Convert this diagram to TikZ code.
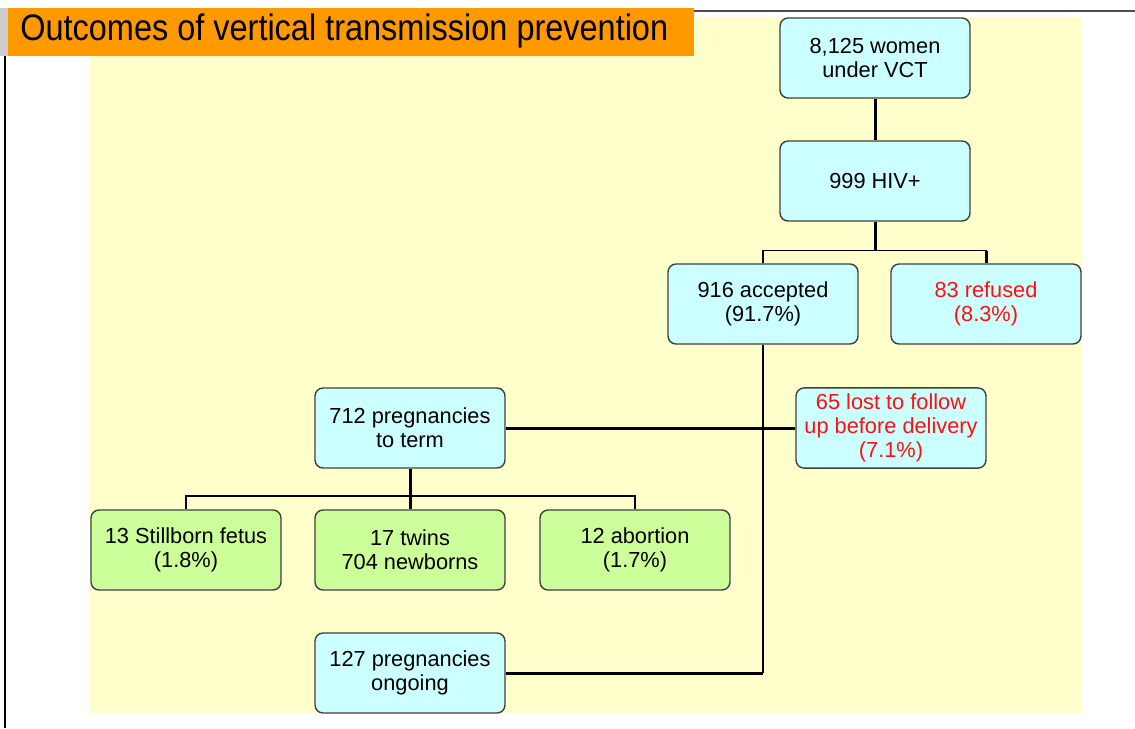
\documentclass[tikz,border=0pt]{standalone}
\usepackage{xcolor}
\usepackage{fontspec}
\usepackage{graphicx}
\setmainfont{Liberation Sans}
\usetikzlibrary{positioning}
\definecolor{boxcyan}{HTML}{CCFFFF}
\definecolor{boxgreen}{HTML}{CCFF99}
\definecolor{paneyellow}{HTML}{FFFFCC}
\definecolor{titleorange}{HTML}{FF9900}
\definecolor{lossred}{HTML}{FF1010}
\definecolor{edgegray}{HTML}{404040}

\tikzset{
  flowbox/.style={draw=edgegray, line width=0.8pt, rounded corners=0.16cm,
    minimum width=3.8cm, minimum height=1.6cm, align=center,
    font=\fontsize{12.4}{13.7}\selectfont},
  cyanbox/.style={flowbox, fill=boxcyan},
  greenbox/.style={flowbox, fill=boxgreen},
  thickline/.style={line width=1.7pt},
  thinline/.style={line width=0.9pt}
}

\begin{document}
\begin{tikzpicture}[x=0.02cm, y=-0.02cm]
        \useasboundingbox (0,0) rectangle (1135,728);
        % frame and backdrop
        \fill[white] (0,0) rectangle (1135,728);
        \draw[black!70, line width=1pt] (694,11) -- (1135,11);
        \draw[black, line width=0.6pt] (5,56) -- (5,728);
        \fill[paneyellow] (90,17) rectangle (1082,713);
        \fill[titleorange] (8,8) rectangle (694,56);
        \fill[black!20] (0,8) rectangle (8,56);
        \node[anchor=west, inner sep=0pt] (title) at (20,31)
            {\scalebox{0.88}[1]{\fontsize{21}{24}\selectfont Outcomes of vertical transmission prevention}};

        % boxes
        \node[cyanbox] (women) at (875,58) {8,125 women\\under VCT};
        \node[cyanbox] (hiv) at (875,181) {999 HIV+};
        \node[cyanbox] (accepted) at (763,304) {916 accepted\\(91.7\%)};
        \node[cyanbox, text=lossred] (refused) at (986,304) {83 refused\\(8.3\%)};
        \node[cyanbox, text=lossred] (lost) at (891,428) {65 lost to follow\\up before delivery\\(7.1\%)};
        \node[cyanbox] (term) at (410,428) {712 pregnancies\\to term};
        \node[greenbox] (still) at (186,550) {13 Stillborn fetus\\(1.8\%)};
        \node[greenbox] (twins) at (410,550) {17 twins\\704 newborns};
        \node[greenbox] (abort) at (635,550) {12 abortion\\(1.7\%)};
        \node[cyanbox] (ongoing) at (410,673) {127 pregnancies\\ongoing};

        % connectors
        \draw[thickline] (women) -- (hiv);
        \draw[thickline] (hiv.south) -- ++(0,29) coordinate (split1);
        \draw[thinline] (accepted.north) |- (split1) -| (refused.north);
        \draw[thickline] (refused.north) -- (refused.north |- split1);
        \draw[thinline] (accepted.south) -- (accepted.south |- ongoing.east) coordinate (bend1);
        \draw[thickline] (bend1) -- (ongoing.east);
        \draw[thickline] (term.east) -- (lost.west);
        \draw[thickline] (term.south) -- ++(0,27) coordinate (split2);
        \draw[thinline] (still.north) |- (split2) -| (abort.north);
        \draw[thickline] (split2) -- (twins.north);
    \end{tikzpicture}
\end{document}
